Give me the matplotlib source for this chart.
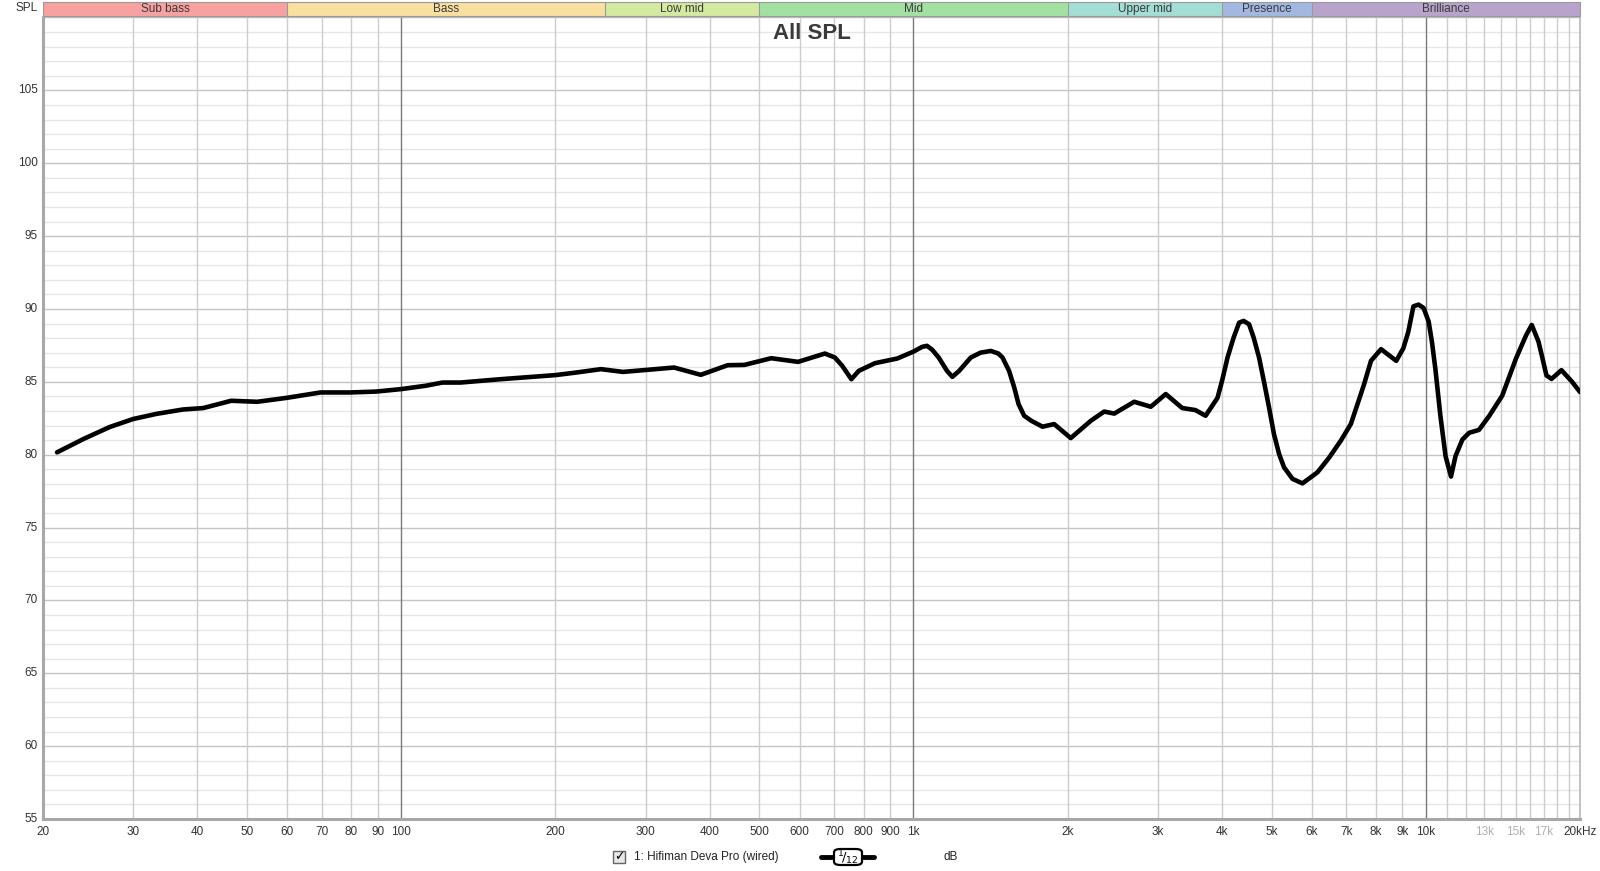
import matplotlib
matplotlib.use('Agg')
import matplotlib.pyplot as plt
import matplotlib.transforms as mtransforms
from matplotlib.patches import Rectangle, FancyBboxPatch
from matplotlib.lines import Line2D

plt.rcParams['font.family'] = ['Liberation Sans', 'DejaVu Sans']

# 频响数据 (Hz, dB)
freq = [21.3, 24.0, 27.0, 30.0, 33.3, 37.5, 41.1, 46.6, 52.4, 59.8,
        69.6, 79.4, 89.3, 100, 111.7, 120.4, 130.6, 156.4, 200, 220,
        245.5, 271, 302, 341, 384.6, 433.9, 467.8, 527.7, 595.3, 671.7,
        702.4, 726, 756.6, 782, 841.5, 930, 1001, 1040, 1063, 1088,
        1120, 1163, 1191, 1228, 1294, 1352, 1416, 1465, 1492, 1537,
        1573, 1604, 1645, 1698, 1786, 1882, 2028, 2220, 2357, 2466,
        2697, 2906, 3108, 3347, 3552, 3717, 3922, 4003, 4103, 4216,
        4322, 4410, 4520, 4614, 4727, 4829, 4944, 5054, 5172, 5289,
        5494, 5745, 6146, 6477, 6825, 7140, 7358, 7580, 7817, 8180,
        8757, 9040, 9240, 9460, 9680, 9900, 10130, 10280, 10440, 10680,
        10930, 11200, 11430, 11790, 12150, 12700, 13300, 14100, 15000, 15700,
        16100, 16300, 16600, 16900, 17200, 17600, 18400, 19300, 20000]
spl = [80.16, 81.08, 81.9, 82.45, 82.8, 83.1, 83.2, 83.7, 83.63, 83.9,
       84.27, 84.27, 84.33, 84.5, 84.73, 84.95, 84.95, 85.18, 85.46, 85.64,
       85.87, 85.68, 85.82, 85.98, 85.48, 86.14, 86.16, 86.62, 86.37, 86.94,
       86.67, 86.1, 85.18, 85.75, 86.28, 86.6, 87.08, 87.4, 87.47, 87.2,
       86.67, 85.75, 85.34, 85.75, 86.67, 87.0, 87.12, 86.94, 86.67, 85.75,
       84.61, 83.47, 82.67, 82.33, 81.92, 82.1, 81.14, 82.33, 82.96, 82.82,
       83.63, 83.29, 84.16, 83.2, 83.06, 82.67, 83.9, 85.07, 86.67, 88.03,
       89.06, 89.18, 88.95, 88.03, 86.67, 85.07, 83.24, 81.42, 80.05, 79.13,
       78.34, 78.03, 78.79, 79.8, 80.96, 82.1, 83.47, 84.84, 86.44, 87.24,
       86.44, 87.3, 88.4, 90.18, 90.3, 90.07, 89.14, 87.75, 85.9, 82.66,
       79.9, 78.5, 79.9, 81.04, 81.5, 81.7, 82.66, 84.05, 86.6, 88.2,
       88.9, 88.44, 87.75, 86.6, 85.44, 85.2, 85.8, 85.0, 84.3]

# 频段
band_names = ['Sub bass', 'Bass', 'Low mid', 'Mid', 'Upper mid', 'Presence', 'Brilliance']
band_edges = [20, 60, 250, 500, 2000, 4000, 6000, 20000]
band_colors = ['#f9a1a1', '#f9dfa0', '#d3eaa0', '#a3e1a3', '#a3ded6', '#a3b8e0', '#b8a3cc']

# 刻度
dark_x = [100, 1000, 10000]
light_x = [20, 30, 40, 50, 60, 70, 80, 90, 200, 300, 400, 500, 600, 700, 800, 900,
           2000, 3000, 4000, 5000, 6000, 7000, 8000, 9000,
           11000, 12000, 13000, 14000, 15000, 16000, 17000, 18000, 19000]
x_labels = {20: '20', 30: '30', 40: '40', 50: '50', 60: '60', 70: '70', 80: '80', 90: '90',
            100: '100', 200: '200', 300: '300', 400: '400', 500: '500', 600: '600',
            700: '700', 800: '800', 900: '900', 1000: '1k', 2000: '2k', 3000: '3k',
            4000: '4k', 5000: '5k', 6000: '6k', 7000: '7k', 8000: '8k', 9000: '9k',
            10000: '10k', 13000: '13k', 15000: '15k', 17000: '17k', 20000: '20kHz'}
grey_labels = [13000, 15000, 17000]
y_labels = [55, 60, 65, 70, 75, 80, 85, 90, 95, 100, 105]

W, H = 1600, 871
fig = plt.figure(figsize=(W / 100, H / 100), dpi=100)
fig.patch.set_facecolor('white')

x0, x1, ytop, ybot = 43, 1580, 17.5, 819
ax = fig.add_axes([x0 / W, 1 - ybot / H, (x1 - x0) / W, (ybot - ytop) / H])
ax.set_xscale('log')
ax.set_xlim(20, 20000)
ax.set_ylim(55, 110)

# 网格
for y in range(55, 111):
    if y % 5 == 0:
        ax.axhline(y, color='#c4c4c4', lw=1, zorder=1)
    else:
        ax.axhline(y, color='#e6e6e6', lw=1, zorder=0.5)
for x in light_x:
    ax.axvline(x, color='#cccccc', lw=1, zorder=1)
for x in dark_x:
    ax.axvline(x, color='#7a7a7a', lw=1, zorder=1.2)

ax.plot(freq, spl, color='black', lw=3.3, solid_joinstyle='round',
        solid_capstyle='round', zorder=3)

ax.set_xticks([])
ax.set_yticks([])
ax.minorticks_off()
for s in ['left', 'bottom']:
    ax.spines[s].set_color('#a8a8a8')
    ax.spines[s].set_linewidth(2.2)
for s in ['top', 'right']:
    ax.spines[s].set_color('#b8b8b8')
    ax.spines[s].set_linewidth(1.2)

# 坐标标签
for f, lab in x_labels.items():
    c = '#b0b0b0' if f in grey_labels else '#333333'
    ax.text(f, 54.1, lab, ha='center', va='center', fontsize=8.5, color=c, clip_on=False)
ytrans = mtransforms.blended_transform_factory(ax.transAxes, ax.transData)
for v in y_labels:
    ax.text(-5 / (x1 - x0), v, str(v), transform=ytrans, ha='right', va='center',
            fontsize=8.5, color='#333333', clip_on=False)
fig.text(27 / W, 1 - 8 / H, 'SPL', ha='center', va='center', fontsize=8.5, color='#333333')

ax.text(0.5, 1 - (33.5 - ytop) / (ybot - ytop), 'All SPL', transform=ax.transAxes,
        ha='center', va='center', fontsize=16, fontweight='bold', color='#3a3a3a')

# 顶部频段条
bx = fig.add_axes([x0 / W, 1 - 16 / H, (x1 - x0) / W, 14 / H])
bx.set_xscale('log')
bx.set_xlim(20, 20000)
bx.set_ylim(0, 1)
for i in range(len(band_names)):
    lo, hi = band_edges[i], band_edges[i + 1]
    bx.axvspan(lo, hi, color=band_colors[i], lw=0)
    bx.axvline(hi, color='#9a9a9a', lw=0.8)
    bx.text((lo * hi) ** 0.5, 0.5, band_names[i], ha='center', va='center',
            fontsize=8.5, color='#3a3a3a')
bx.set_xticks([])
bx.set_yticks([])
bx.minorticks_off()
for s in bx.spines.values():
    s.set_color('#9a9a9a')
    s.set_linewidth(0.8)

# 图例
ly = 1 - 857 / H
fig.patches.append(Rectangle((613 / W, 1 - 863 / H), 12 / W, 12 / H, transform=fig.transFigure,
                             facecolor='#e8e8e8', edgecolor='#666666', lw=1))
fig.text(619 / W, ly, '\u2713', ha='center', va='center', fontsize=9, color='black',
         family=['DejaVu Sans'])
fig.text(634 / W, ly, '1: Hifiman Deva Pro (wired)', ha='left', va='center', fontsize=8.5,
         color='#222222')
fig.add_artist(Line2D([821 / W, 874 / W], [ly, ly], transform=fig.transFigure,
                      color='black', lw=3.5, solid_capstyle='round', zorder=3))
fig.add_artist(FancyBboxPatch((834 / W, 1 - 865 / H), 28 / W, 16 / H, transform=fig.transFigure,
                              boxstyle='round,pad=0,rounding_size=0.004',
                              facecolor='white', edgecolor='black', lw=1.6, zorder=4))
fig.text(848 / W, ly - 0.001, '$^{1}\\!/_{12}$', ha='center', va='center', fontsize=9.5,
         color='black', zorder=5)
fig.text(951 / W, ly, 'dB', ha='center', va='center', fontsize=8.5, color='#222222')

fig.savefig('out.png', dpi=100)
